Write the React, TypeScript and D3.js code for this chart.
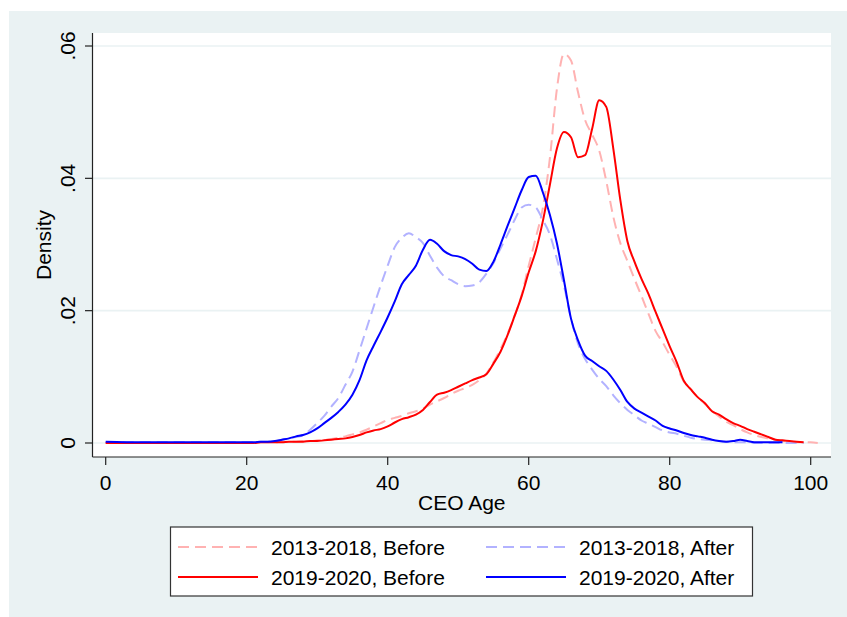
import React from "react";
import * as d3 from "d3";

// Common age grid (years)
const ages: number[] = [0, 5, 10, 15,
  20, 21, 22, 23, 24, 25, 26, 27, 28, 29,
  30, 31, 32, 33, 34, 35, 36, 37, 38, 39,
  40, 41, 42, 43, 44, 45, 46, 47, 48, 49,
  50, 51, 52, 53, 54, 55, 56, 57, 58, 59,
  60, 61, 62, 63, 64, 65, 66, 67, 68, 69,
  70, 71, 72, 73, 74, 75, 76, 77, 78, 79,
  80, 81, 82, 83, 84, 85, 86, 87, 88, 89,
  90, 91, 92, 93, 94, 95, 96, 97, 98, 99,
  100, 101];

// 2013-2018, Before
const before1318: (number | null)[] = [0, 0, 0, 0,
  0, 0.0001, 0.0001, 0.0001, 0.0001, 0.0002, 0.0002, 0.0002, 0.0003, 0.0003,
  0.0004, 0.0005, 0.0006, 0.0008, 0.001, 0.0013, 0.0016, 0.002, 0.0025, 0.003,
  0.0035, 0.0038, 0.0041, 0.0045, 0.0048, 0.0052, 0.0058, 0.0063, 0.0068, 0.0074,
  0.0079, 0.0083, 0.0088, 0.0095, 0.0105, 0.0122, 0.0142, 0.0165, 0.0192, 0.0224,
  0.0268, 0.031, 0.0355, 0.043, 0.0535, 0.0588, 0.0578, 0.053, 0.0488, 0.0466,
  0.0442, 0.0396, 0.0342, 0.0302, 0.0275, 0.0248, 0.0222, 0.0195, 0.0169, 0.0152,
  0.0133, 0.0115, 0.0093, 0.0081, 0.0069, 0.0059, 0.0049, 0.004, 0.0032, 0.0027,
  0.0021, 0.0016, 0.0012, 0.0009, 0.0007, 0.0005, 0.0003, 0.0002, 0.0001, 0.0001,
  0.0001, 0];

// 2013-2018, After
const after1318: (number | null)[] = [0.0001, 0.0001, 0.0001, 0.0001,
  0.0001, 0.0001, 0.0002, 0.0002, 0.0003, 0.0005, 0.0007, 0.0009, 0.0012, 0.002,
  0.003, 0.0041, 0.0055, 0.0068, 0.0088, 0.0108, 0.014, 0.0173, 0.0206, 0.0238,
  0.0268, 0.0296, 0.031, 0.0317, 0.0311, 0.0302, 0.0283, 0.0265, 0.0252, 0.0246,
  0.024, 0.0237, 0.0238, 0.0243, 0.0256, 0.0272, 0.0294, 0.0315, 0.0337, 0.0356,
  0.036, 0.0356, 0.0337, 0.0315, 0.0278, 0.0238, 0.0188, 0.015, 0.0127, 0.0111,
  0.0097, 0.0086, 0.0072, 0.006, 0.005, 0.0042, 0.0034, 0.0029, 0.0024, 0.0019,
  0.0016, 0.0014, 0.0011, 0.0008, 0.0006, 0.0005, 0.0004, 0.0003, 0.0002, 0.0001,
  0.0001, 0.0001, 0, 0, 0, 0, 0, 0, 0, 0,
  null, null];

// 2019-2020, Before
const before1920: (number | null)[] = [0, 0, 0, 0,
  0, 0, 0.0001, 0.0001, 0.0001, 0.0001, 0.0002, 0.0002, 0.0002, 0.0003,
  0.0003, 0.0004, 0.0005, 0.0006, 0.0007, 0.0009, 0.0012, 0.0016, 0.0019, 0.0021,
  0.0025, 0.0031, 0.0036, 0.0039, 0.0043, 0.005, 0.0062, 0.0073, 0.0076, 0.008,
  0.0085, 0.009, 0.0095, 0.0099, 0.0104, 0.012, 0.0138, 0.0163, 0.0192, 0.0222,
  0.0258, 0.029, 0.0335, 0.039, 0.0445, 0.047, 0.0462, 0.0432, 0.0435, 0.0475,
  0.0518, 0.0508, 0.0445, 0.0367, 0.0305, 0.0274, 0.0248, 0.0225, 0.0198, 0.0172,
  0.0146, 0.0122, 0.0094, 0.0081, 0.0069, 0.006, 0.0048, 0.0043, 0.0036, 0.003,
  0.0026, 0.0021, 0.0017, 0.0013, 0.0009, 0.0005, 0.0004, 0.0003, 0.0002, 0.0001,
  null, null];

// 2019-2020, After
const after1920: (number | null)[] = [0.0002, 0.0001, 0.0001, 0.0001,
  0.0001, 0.0001, 0.0002, 0.0002, 0.0003, 0.0005, 0.0007, 0.001, 0.0012, 0.0016,
  0.0022, 0.003, 0.0038, 0.0047, 0.0058, 0.0073, 0.0095, 0.0125, 0.0147, 0.0168,
  0.019, 0.0214, 0.024, 0.0254, 0.0268, 0.0292, 0.0307, 0.0301, 0.029, 0.0284,
  0.0282, 0.0278, 0.0271, 0.0262, 0.026, 0.0274, 0.03, 0.0328, 0.0355, 0.0382,
  0.0402, 0.0404, 0.0379, 0.0345, 0.0302, 0.0246, 0.0188, 0.0155, 0.0132, 0.0124,
  0.0116, 0.0109, 0.0096, 0.008, 0.0062, 0.0052, 0.0046, 0.004, 0.0034, 0.0026,
  0.0022, 0.0019, 0.0015, 0.0012, 0.001, 0.0008, 0.0005, 0.0003, 0.0002, 0.0003,
  0.0005, 0.0003, 0.0001, 0.0001, 0.0001, 0.0001, 0.0001, null, null, null,
  null, null];

const xTicks: number[] = [0, 20, 40, 60, 80, 100];
const yTicks: number[] = [0, 0.02, 0.04, 0.06];
const yTickLabels: string[] = ["0", ".02", ".04", ".06"];
const seriesNames: string[] = ["2013-2018, Before", "2013-2018, After", "2019-2020, Before", "2019-2020, After"];
const seriesColors: string[] = ["#ffb2b2", "#b2b2ff", "#ff0000", "#0000ff"];
const seriesDashed: boolean[] = [true, true, false, false];
const seriesData = [before1318, after1318, before1920, after1920];

const W = 847;
const H = 617;
const FONT = "'Liberation Sans', Arial, Helvetica, sans-serif";
const BG = "#eaf2f3";

export default function App() {
  const plotL = 92.5, plotR = 831, plotT = 33, plotB = 457;
  const x = d3.scaleLinear().domain([0, 100]).range([105.7, 810.7]);
  const y = d3.scaleLinear().domain([0, 0.06]).range([443, 46]);

  const lineGen = d3
    .line<[number, number | null]>()
    .defined((d) => d[1] !== null)
    .x((d) => x(d[0]))
    .y((d) => y(d[1] as number))
    .curve(d3.curveMonotoneX);

  const fs = 21;

  // legend layout
  const legX = 170.5, legY = 527, legW = 582, legH = 69;
  const legCols = [178, 486];
  const legRows = [547, 577];

  return (
    <svg width={W} height={H} style={{ position: "absolute", left: 0, top: 0 }} fontFamily={FONT}>
      <rect x={0} y={0} width={W} height={H} fill="#ffffff" />
      <rect x={9} y={11} width={W - 9} height={H - 11} fill={BG} />
      <rect x={plotL} y={plotT} width={plotR - plotL} height={plotB - plotT} fill="#ffffff" />
      {/* grid lines */}
      {yTicks.map((t) => (
        <line key={"g" + t} x1={plotL} x2={plotR} y1={y(t)} y2={y(t)} stroke={BG} strokeWidth={1.6} />
      ))}
      {/* series */}
      {seriesData.map((s, i) => (
        <path
          key={"s" + i}
          d={lineGen(ages.map((a, j) => [a, s[j]]) as [number, number | null][]) || ""}
          fill="none"
          stroke={seriesColors[i]}
          strokeWidth={2}
          strokeDasharray={seriesDashed[i] ? "11,6" : undefined}
          strokeLinejoin="round"
        />
      ))}
      {/* axes */}
      <line x1={plotL} x2={plotL} y1={plotT} y2={plotB} stroke="#222" strokeWidth={1.2} />
      <line x1={plotL} x2={plotR} y1={plotB} y2={plotB} stroke="#222" strokeWidth={1.2} />
      {yTicks.map((t, i) => (
        <g key={"yt" + t}>
          <line x1={plotL - 7.5} x2={plotL} y1={y(t)} y2={y(t)} stroke="#222" strokeWidth={1.2} />
          <text
            transform={`translate(75,${y(t)}) rotate(-90)`}
            textAnchor="middle"
            fontSize={fs}
            fill="#000"
          >
            {yTickLabels[i]}
          </text>
        </g>
      ))}
      {xTicks.map((t) => (
        <g key={"xt" + t}>
          <line x1={x(t)} x2={x(t)} y1={plotB} y2={plotB + 8} stroke="#222" strokeWidth={1.2} />
          <text x={x(t)} y={490} textAnchor="middle" fontSize={fs} fill="#000">
            {t}
          </text>
        </g>
      ))}
      <text x={(plotL + plotR) / 2} y={510} textAnchor="middle" fontSize={fs} fill="#000">
        CEO Age
      </text>
      <text transform={`translate(51,${(plotT + plotB) / 2}) rotate(-90)`} textAnchor="middle" fontSize={fs} fill="#000">
        Density
      </text>
      {/* legend */}
      <rect x={legX} y={legY} width={legW} height={legH} fill="#ffffff" stroke="#333" strokeWidth={1.2} />
      {seriesNames.map((name, i) => {
        const col = i % 2;
        const row = Math.floor(i / 2);
        const lx = legCols[col];
        const ly = legRows[row];
        return (
          <g key={"l" + i}>
            <line
              x1={lx}
              x2={lx + 80}
              y1={ly}
              y2={ly}
              stroke={seriesColors[i]}
              strokeWidth={2}
              strokeDasharray={seriesDashed[i] ? "11,6" : undefined}
            />
            <text x={lx + 93} y={ly + 7.5} fontSize={fs} fill="#000">
              {name}
            </text>
          </g>
        );
      })}
    </svg>
  );
}
